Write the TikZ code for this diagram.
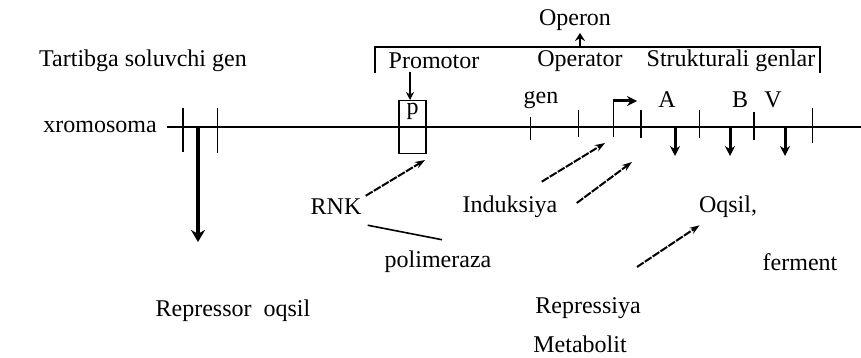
\documentclass[tikz,border=0pt]{standalone}
\usepackage{fontspec}
\setmainfont{Liberation Serif}
\usepackage{tikz}
\usetikzlibrary{positioning, arrows.meta, calc}

\begin{document}
\begin{tikzpicture}[x=0.5pt, y=-0.5pt,
 font=\fontsize{12}{14}\selectfont,
 lbl/.style={inner sep=1pt},
 thintick/.style={line width=0.5pt},
 thicktick/.style={line width=1.2pt},
 downarr/.style={-{Stealth[length=5pt,width=5pt]}, line width=1.5pt},
 dasharr/.style={-{Stealth[length=5pt,width=3.5pt]}, line width=1pt, dash pattern=on 4pt off 0.7pt}]
\useasboundingbox (0,0) rectangle (861,358);

% texts
\node[lbl](operon) at (575,20){Operon};
\node[lbl](tartib) at (143,61){Tartibga soluvchi gen};
\node[lbl](promotor) at (434,61){Promotor};
\node[lbl](operator) at (580,61){Operator};
\node[lbl](struk) at (731,61){Strukturali genlar};
\node[lbl](xrom) at (100,127){xromosoma};
\node[lbl](gen) at (541,100){gen};
\node[lbl](ga) at (667,100){A};
\node[lbl](gb) at (740,100){B};
\node[lbl](gv) at (773,100){V};
\node[lbl](rnk) at (336,207){RNK};
\node[lbl](induk) at (510,207){Induksiya};
\node[lbl](oqsil) at (728,207){Oqsil,};
\node[lbl](polim) at (438,262){polimeraza};
\node[lbl](ferment) at (800,262){ferment};
\node[lbl](repoqsil) at (233,311){Repressor\ \ oqsil};
\node[lbl](repress) at (588,308){Repressiya};
\node[lbl](metab) at (580,344){Metabolit};

% chromosome
\coordinate (xl) at (167,127);
\coordinate (xr) at (861,127);
\draw[line width=1pt](xl)--(xr);
\node[draw, line width=0.6pt, minimum width=13.5pt, minimum height=26.5pt, anchor=north,
  label={[anchor=north, inner sep=1.5pt]north:p}](pbox) at (412.5,100){};

\foreach \x/\a/\b in {183/108/152, 641/110/138, 754/112/140}
  \draw[thicktick] (\x,\a)--(\x,\b);
\foreach \x/\a/\b in {217/108/153, 530/117/140, 578/110/137, 699/110/138, 812/108/143}
  \draw[thintick] (\x,\a)--(\x,\b);

% operon bracket
\draw[line width=0.7pt](375,73)--(375,47)--(820,47)--(820,73);
\draw[-{Stealth[length=4pt,width=5pt]}, line width=0.8pt](580,47)--(operon.south -| 580,0);
\coordinate (promarr) at (410,72);
\draw[-{Stealth[length=4pt,width=4pt]}, line width=0.7pt](promarr)--(promarr |- pbox.north);

% transcription start
\draw[thintick](613,137)--(613,101);
\draw[-{Stealth[length=5pt,width=5pt]}, line width=1.5pt](613,101)--(637,101);

% repressor, genes
\coordinate (rtop) at (198,127);
\draw[-{Stealth[length=6pt,width=7pt]}, line width=2pt](rtop)--(198,242);
\foreach \x in {675,730,785}
  \draw[downarr](\x,127)--(\x,156);

% arrows
\coordinate (pin) at (425,160);
\coordinate (opin1) at (605,143);
\coordinate (opin2) at (632,162);
\coordinate (oqstart) at (637,267);
\draw[dasharr]($(rnk.north east)+(2,-1)$)--(pin);
\draw[dasharr]($(induk.north east)+(-18,-12)$)--(opin1);
\draw[dasharr]($(induk.east)+(17,-4)$)--(opin2);
\draw[dasharr](oqstart)--($(oqsil.south west)+(3,5)$);
\draw[line width=0.8pt]($(rnk.south east)+(4,8)$)--($(polim.north)+(4,-9)$);

\end{tikzpicture}
\end{document}
